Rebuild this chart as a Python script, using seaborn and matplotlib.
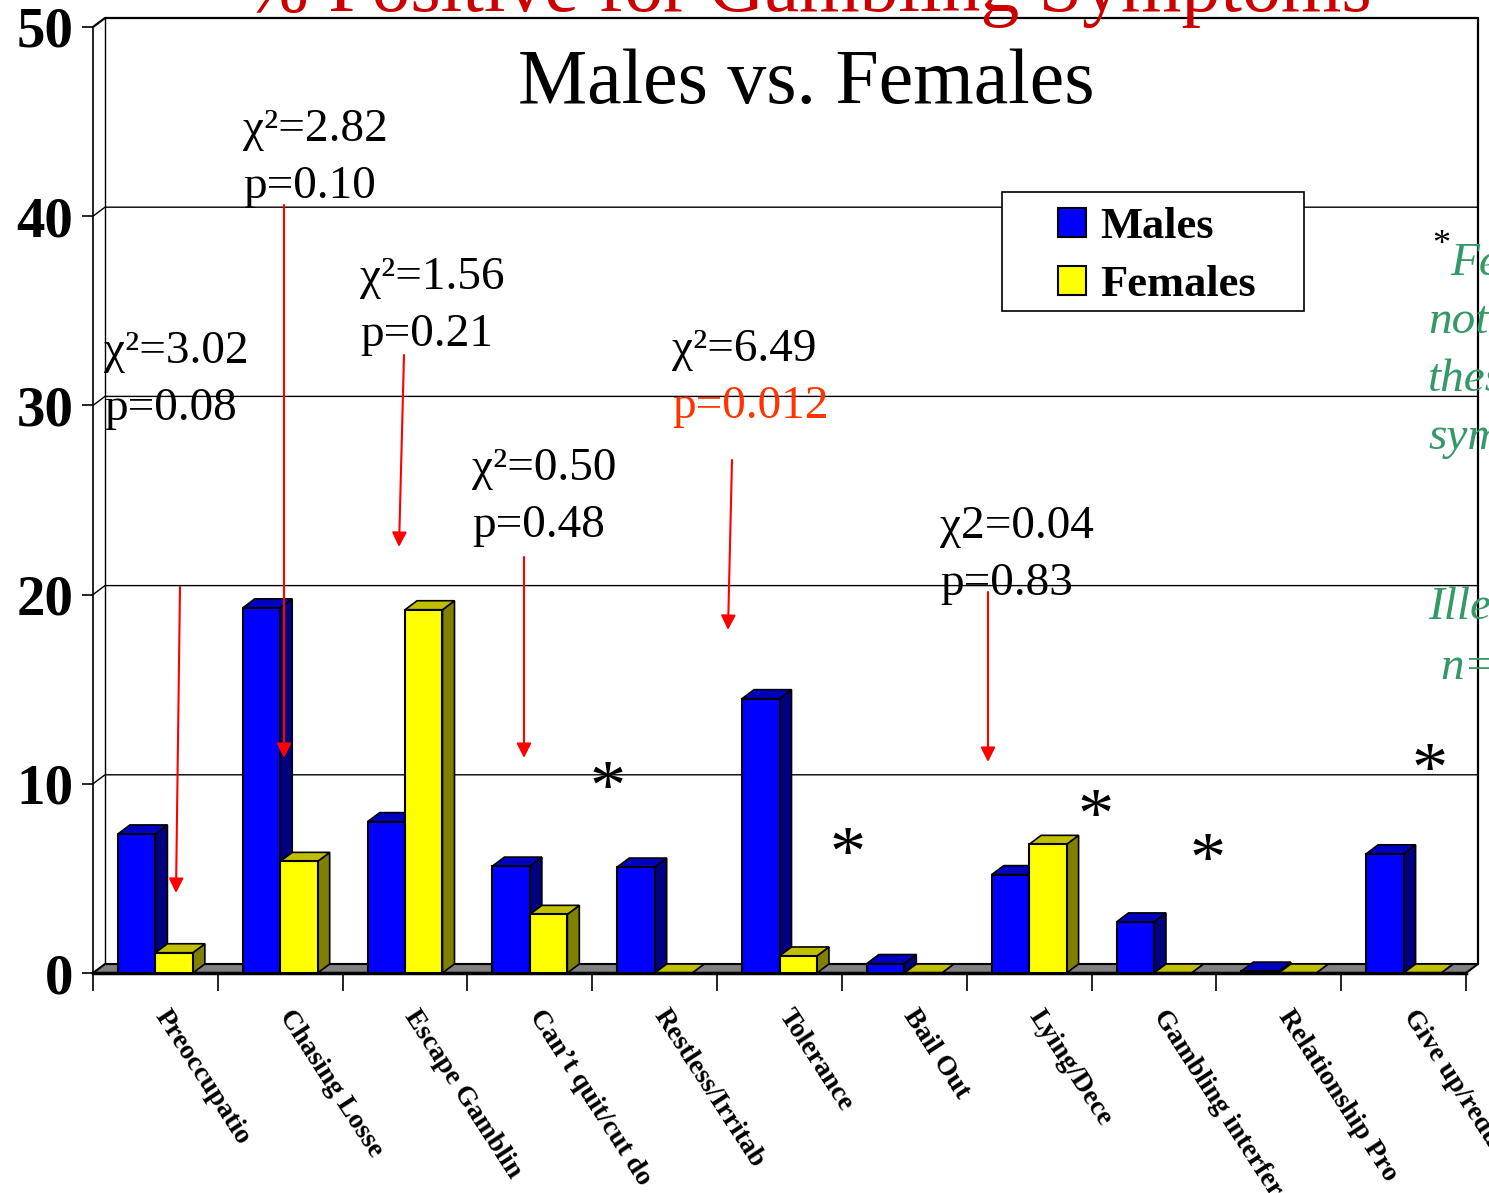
import numpy as np
import pandas as pd
import matplotlib
matplotlib.use('Agg')
import matplotlib.pyplot as plt
import seaborn as sns
from matplotlib.patches import Polygon, Rectangle

# ==========================================
# Data
# ==========================================
symptoms = ["Preoccupatio", "Chasing Losse", "Escape Gamblin", "Can\u2019t quit/cut do",
            "Restless/Irritab", "Tolerance", "Bail Out", "Lying/Dece",
            "Gambling interfer", "Relationship Pro", "Give up/reduc"]
males = [7.35, 19.3, 8.0, 5.65, 5.6, 14.5, 0.5, 5.2, 2.7, 0.1, 6.3]
females = [1.07, 5.9, 19.2, 3.1, 0.0, 0.9, 0.0, 6.8, 0.0, 0.0, 0.0]
series = ["Males", "Females"]
y_ticks = [0, 10, 20, 30, 40, 50]

chi_labels = ["\u03c7\u00b2=3.02", "\u03c7\u00b2=2.82", "\u03c7\u00b2=1.56",
              "\u03c7\u00b2=0.50", "\u03c7\u00b2=6.49", "\u03c72=0.04"]
p_labels = ["p=0.08", "p=0.10", "p=0.21", "p=0.48", "p=0.012", "p=0.83"]
p_colors = ["black", "black", "black", "black", "#FF3300", "black"]

# text / arrow layout in pixels of the 1489x1193 picture
W, H = 1489, 1193
stat_xy = [(104, 352), (243, 130), (360, 278), (472, 469), (672, 350), (940, 527)]
arrow_from = [(180, 587), (284, 205), (404, 355), (524, 557), (732, 460), (988, 592)]
arrow_to = [(176, 893), (284, 758), (399, 547), (524, 758), (728, 630), (988, 762)]
star_xy = [(608, 778), (848, 843), (1096, 806), (1208, 850), (1430, 760)]
note_lines = ["Females", "not", "these", "symptoms", "Illegal", "n="]
note_xy = [(1450, 264), (1428, 322), (1428, 380), (1428, 438), (1428, 608), (1440, 668)]

front_cols = {"Males": "#0000FF", "Females": "#FFFF00"}
side_cols = {"Males": "#000080", "Females": "#808000"}
top_cols = {"Males": "#0000C0", "Females": "#C0C000"}


def fx(x):
    return x / W


def fy(y):
    return 1 - y / H


sns.set_theme(style="white")
plt.rcParams['font.family'] = ['Liberation Serif', 'DejaVu Serif']
plt.rcParams['text.color'] = 'black'
plt.rcParams['xtick.color'] = 'black'
plt.rcParams['ytick.color'] = 'black'
plt.rcParams['axes.labelcolor'] = 'black'

fig = plt.figure(figsize=(W / 100, H / 100), dpi=100)
ax = fig.add_axes([fx(93), fy(973), (1466 - 93) / W, (973 - 27) / H])

df = pd.DataFrame({
    "Symptom": symptoms * 2,
    "Percent": males + females,
    "Sex": ["Males"] * len(males) + ["Females"] * len(females),
})

sns.barplot(data=df, x="Symptom", y="Percent", hue="Sex", hue_order=series,
            palette=front_cols, saturation=1, width=0.6, edgecolor="black",
            linewidth=1.5, ax=ax, zorder=3)

ax.set_xlim(-0.5, 10.5)
ax.set_ylim(0, 50)

# 3D depth in data units
DX = 12 / 124.8
DY = 9 / 18.92

# floor
ax.add_patch(Polygon([(-0.5, 0), (10.5, 0), (10.5 + DX, DY), (-0.5 + DX, DY)],
                     closed=True, fc="#808080", ec="black", lw=1.5, zorder=1, clip_on=False))

# back wall + left wall grid
for v in y_ticks[1:]:
    ax.plot([-0.5, -0.5 + DX, 10.5 + DX], [v, v + DY, v + DY], color="black",
            lw=1.6 if v == 50 else 1.0, zorder=0.5, clip_on=False)
ax.plot([-0.5 + DX, -0.5 + DX], [DY, 50 + DY], color="black", lw=1.0, zorder=0.5, clip_on=False)
ax.plot([10.5 + DX, 10.5 + DX], [DY, 50 + DY], color="black", lw=1.6, zorder=0.5, clip_on=False)

# side and top faces of the bars
for z, (cont, name) in enumerate(zip(ax.containers, series)):
    for bar in cont:
        x0, w, h = bar.get_x(), bar.get_width(), bar.get_height()
        side = Polygon([(x0 + w, 0), (x0 + w + DX, DY), (x0 + w + DX, h + DY), (x0 + w, h)],
                       closed=True, fc=side_cols[name], ec="black", lw=1.2,
                       zorder=2 + 0.5 * z, clip_on=False)
        top = Polygon([(x0, h), (x0 + DX, h + DY), (x0 + w + DX, h + DY), (x0 + w, h)],
                      closed=True, fc=top_cols[name], ec="black", lw=1.2,
                      zorder=2 + 0.5 * z, clip_on=False)
        ax.add_patch(side)
        ax.add_patch(top)

# axes look
handles, labels = ax.get_legend_handles_labels()
ax.get_legend().remove()
sns.despine(ax=ax, top=True, right=True)
ax.spines['left'].set_linewidth(1.2)
ax.spines['bottom'].set_linewidth(2.5)
ax.spines['left'].set_color('black')
ax.spines['bottom'].set_color('black')
ax.set_xlabel("")
ax.set_ylabel("")
ax.patch.set_alpha(0)

ax.set_yticks(y_ticks)
ax.set_yticklabels([str(t) for t in y_ticks], fontsize=41, fontweight='bold')
ax.tick_params(axis='y', left=True, length=8, width=1.2, pad=6, color='black')

ax.set_xticks(range(len(symptoms)))
ax.set_xticklabels([])
ax.set_xticks(np.arange(-0.5, len(symptoms), 1), minor=True)
ax.tick_params(axis='x', which='major', length=0)
ax.tick_params(axis='x', which='minor', bottom=True, length=13, width=1.2, color='black')

for i, lab in enumerate(symptoms):
    ax.text(i + 0.12, -(1005 - 973) / 18.92, lab, rotation=-57, rotation_mode='anchor',
            ha='left', va='top', fontsize=20, fontweight='bold', clip_on=False)

# titles
fig.text(fx(808), fy(11), "% Positive for Gambling Symptoms", ha='center', va='baseline',
         fontsize=56, color="#CC0000")
fig.text(fx(806), fy(103), "Males vs. Females", ha='center', va='baseline', fontsize=56)

# statistics
for (x, y), chi, p, pc in zip(stat_xy, chi_labels, p_labels, p_colors):
    fig.text(fx(x), fy(y), chi, ha='left', va='center', fontsize=34)
    fig.text(fx(x), fy(y + 57), p, ha='left', va='center', fontsize=34, color=pc)

for (x1, y1), (x2, y2) in zip(arrow_from, arrow_to):
    ax.annotate("", xy=(fx(x2), fy(y2)), xytext=(fx(x1), fy(y1)),
                xycoords='figure fraction', textcoords='figure fraction',
                arrowprops=dict(arrowstyle='-|>', color='red', lw=1.5,
                                mutation_scale=22, shrinkA=0, shrinkB=0),
                annotation_clip=False, zorder=6)

for x, y in star_xy:
    fig.text(fx(x), fy(y + 14), "*", ha='center', va='center', fontsize=52)

# footnote on the right (cut by the picture edge)
fig.text(fx(1441), fy(246), "*", ha='center', va='center', fontsize=26)
for (x, y), line in zip(note_xy, note_lines):
    fig.text(fx(x), fy(y), line, ha='left', va='center', fontsize=34,
             style='italic', color="#339966")

# legend
fig.patches.append(Rectangle((fx(1002), fy(311)), (1304 - 1002) / W, (311 - 192) / H,
                             transform=fig.transFigure, fc='white', ec='black', lw=1.2))
fig.legend(handles, labels, loc='upper left', bbox_to_anchor=(fx(1058), fy(207)),
           frameon=False, prop=dict(weight='bold', size=32),
           handlelength=0.62, handleheight=0.62, handletextpad=0.32,
           labelspacing=0.4, borderpad=0, borderaxespad=0)

fig.savefig("out.png", dpi=100)
